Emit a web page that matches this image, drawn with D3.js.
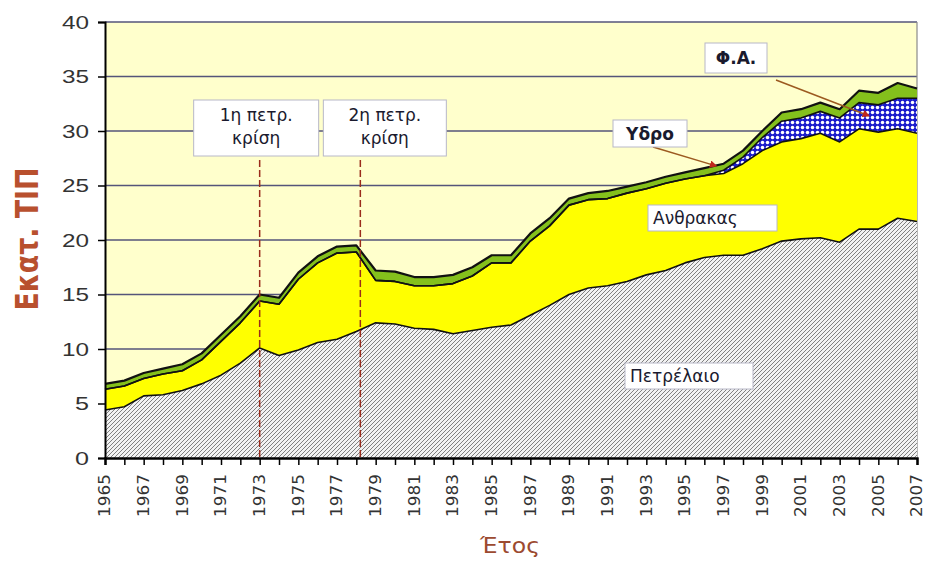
<!DOCTYPE html>
<html>
<head>
<meta charset="utf-8">
<script src="https://cdn.jsdelivr.net/npm/d3@7"></script>
<style>
  body { margin: 0; background: #fff; }
  svg { display: block; }
  .ann-box { fill: #fff; stroke: #b8b8c8; stroke-width: 1; }
  .ann-text { font-family: "DejaVu Sans", Verdana, sans-serif; font-size: 17px; fill: #1a1a2e; }
</style>
</head>
<body>
<svg></svg>
<script>
// years (x categories)
var years = [1965, 1966, 1967, 1968, 1969, 1970, 1971, 1972, 1973, 1974,
  1975, 1976, 1977, 1978, 1979, 1980, 1981, 1982, 1983, 1984,
  1985, 1986, 1987, 1988, 1989, 1990, 1991, 1992, 1993, 1994,
  1995, 1996, 1997, 1998, 1999, 2000, 2001, 2002, 2003, 2004,
  2005, 2006, 2007];

// Πετρέλαιο (oil), Mtoe
var oil = [4.4, 4.7, 5.7, 5.8, 6.2, 6.8, 7.6, 8.7, 10.1, 9.4,
  9.9, 10.6, 10.9, 11.6, 12.4, 12.3, 11.9, 11.8, 11.4, 11.7,
  12.0, 12.2, 13.1, 14.0, 15.0, 15.6, 15.8, 16.2, 16.8, 17.2,
  17.9, 18.4, 18.6, 18.6, 19.2, 19.9, 20.1, 20.2, 19.8, 21.0,
  21.0, 22.0, 21.7];

// Ανθρακας (coal)
var coal = [1.9, 1.9, 1.6, 1.9, 1.8, 2.2, 3.1, 3.7, 4.3, 4.7,
  6.5, 7.3, 7.9, 7.3, 3.9, 3.9, 3.9, 4.0, 4.6, 5.0,
  5.9, 5.7, 6.8, 7.3, 8.2, 8.1, 8.0, 8.1, 7.9, 8.0,
  7.7, 7.5, 7.5, 8.4, 9.0, 9.1, 9.2, 9.6, 9.2, 9.2,
  8.9, 8.2, 8.1];

// Φ.Α. (natural gas)
var gas = [0, 0, 0, 0, 0, 0, 0, 0, 0, 0,
  0, 0, 0, 0, 0, 0, 0, 0, 0, 0,
  0, 0, 0, 0, 0, 0, 0, 0, 0, 0,
  0, 0, 0.3, 0.6, 1.2, 1.9, 1.9, 2.0, 2.2, 2.4,
  2.5, 2.8, 3.2];

// Υδρο (hydro)
var hydro = [0.5, 0.5, 0.5, 0.5, 0.6, 0.6, 0.6, 0.6, 0.6, 0.6,
  0.6, 0.6, 0.6, 0.6, 0.9, 0.9, 0.8, 0.8, 0.8, 0.8,
  0.7, 0.7, 0.7, 0.7, 0.6, 0.6, 0.7, 0.6, 0.6, 0.6,
  0.6, 0.7, 0.6, 0.6, 0.6, 0.8, 0.8, 0.8, 0.8, 1.1,
  1.1, 1.4, 0.9];

var yTicks = [0, 5, 10, 15, 20, 25, 30, 35, 40];
var crisisYears = [1973, 1978];
var crisisLabels = [["1η πετρ.", "κρίση"], ["2η πετρ.", "κρίση"]];

var svg = d3.select("svg"),
  width = 926,
  height = 562,
  margin = { top: 22, right: 9, bottom: 104, left: 105 };

svg.attr("width", width).attr("height", height);

var table = years.map(function(yr, i) {
  return { year: yr, oil: oil[i], coal: coal[i], gas: gas[i], hydro: hydro[i] };
});

var keys = ["oil", "coal", "gas", "hydro"];
var series = d3.stack().keys(keys)(table);

var x = d3.scaleLinear()
  .domain([1965, 2007])
  .range([margin.left, width - margin.right]);

var y = d3.scaleLinear()
  .domain([0, 40])
  .range([height - margin.bottom, margin.top]);

// patterns
var defs = svg.append("defs");

var hatch = defs.append("pattern")
  .attr("id", "hatch")
  .attr("patternUnits", "userSpaceOnUse")
  .attr("width", 4).attr("height", 4);
hatch.append("rect").attr("width", 4).attr("height", 4).attr("fill", "#f2f2f2");
hatch.append("path")
  .attr("d", "M0,4L4,0M-1,1L1,-1M3,5L5,3")
  .attr("stroke", "#808080")
  .attr("stroke-width", 1);

var dots = defs.append("pattern")
  .attr("id", "dots")
  .attr("patternUnits", "userSpaceOnUse")
  .attr("width", 5).attr("height", 5);
dots.append("rect").attr("width", 5).attr("height", 5).attr("fill", "#1c1ccc");
dots.append("circle").attr("cx", 2.5).attr("cy", 2.5).attr("r", 1.75).attr("fill", "#fff");

var fills = { oil: "url(#hatch)", coal: "#ffff00", gas: "url(#dots)", hydro: "#84c01c" };

// plot background
svg.append("rect")
  .attr("x", x(1965))
  .attr("y", y(40))
  .attr("width", x(2007) - x(1965))
  .attr("height", y(0) - y(40))
  .attr("fill", "#ffffcc");

// gridlines
svg.append("g")
  .selectAll("line")
  .data(yTicks.filter(function(d) { return d > 0; }))
  .enter()
  .append("line")
  .attr("x1", x(1965))
  .attr("x2", x(2007))
  .attr("y1", function(d) { return y(d); })
  .attr("y2", function(d) { return y(d); })
  .attr("stroke", "#55557a")
  .attr("stroke-width", 1.3);

// right frame
svg.append("line")
  .attr("x1", x(2007)).attr("x2", x(2007))
  .attr("y1", y(40)).attr("y2", y(0))
  .attr("stroke", "#8a8a8a")
  .attr("stroke-width", 1.2);

var area = d3.area()
  .x(function(d) { return x(d.data.year); })
  .y0(function(d) { return y(d[0]); })
  .y1(function(d) { return y(d[1]); });

var topLine = d3.line()
  .x(function(d) { return x(d.data.year); })
  .y(function(d) { return y(d[1]); });

var g = svg.append("g");

g.selectAll("path.layer")
  .data(series)
  .enter()
  .append("path")
  .attr("class", "layer")
  .attr("fill", function(d) { return fills[d.key]; })
  .attr("d", area);

g.selectAll("path.edge")
  .data(series)
  .enter()
  .append("path")
  .attr("class", "edge")
  .attr("fill", "none")
  .attr("stroke", "#111")
  .attr("stroke-width", function(d) { return d.key === "hydro" ? 2.2 : 1.6; })
  .attr("stroke-linejoin", "round")
  .attr("d", topLine);

// crisis markers
svg.append("g")
  .selectAll("line")
  .data(crisisYears)
  .enter()
  .append("line")
  .attr("x1", function(d) { return x(d) + (d === 1978 ? 4 : 0); })
  .attr("x2", function(d) { return x(d) + (d === 1978 ? 4 : 0); })
  .attr("y1", 160)
  .attr("y2", y(0))
  .attr("stroke", "#9a2c1c")
  .attr("stroke-width", 1.5)
  .attr("stroke-dasharray", "7,3");

// axes
var yAxis = d3.axisLeft(y)
  .tickValues(yTicks)
  .tickSize(7)
  .tickPadding(9);

svg.append("g")
  .attr("transform", "translate(" + x(1965) + ",0)")
  .call(yAxis)
  .call(function(s) {
    s.select(".domain").attr("stroke", "#000").attr("stroke-width", 2);
    s.selectAll(".tick line").attr("stroke", "#000").attr("stroke-width", 1.5);
    s.selectAll(".tick text")
      .attr("font-family", "'Liberation Sans', Arial, sans-serif")
      .attr("font-size", 19)
      .attr("fill", "#333")
      .attr("lengthAdjust", "spacingAndGlyphs")
      .attr("textLength", function(d) { return d < 10 ? 14 : 27; });
  });

var xAxis = d3.axisBottom(x)
  .tickValues(years)
  .tickSize(7)
  .tickFormat(function(d) { return (d - 1965) % 2 === 0 ? d : ""; });

svg.append("g")
  .attr("transform", "translate(0," + y(0) + ")")
  .call(xAxis)
  .call(function(s) {
    s.select(".domain").attr("stroke", "#000").attr("stroke-width", 2.4);
    s.selectAll(".tick line").attr("stroke", "#000").attr("stroke-width", 1.5);
    s.selectAll(".tick text")
      .attr("font-family", "'DejaVu Sans', Verdana, sans-serif")
      .attr("font-size", 15)
      .attr("fill", "#333")
      .attr("text-anchor", "end")
      .attr("dy", null)
      .attr("transform", "translate(4.8,16) rotate(-90)")
      .attr("x", 0)
      .attr("y", 0)
      .attr("lengthAdjust", "spacingAndGlyphs")
      .attr("textLength", function(d) { return (d - 1965) % 2 === 0 ? 43 : null; });
  });

// axis titles
svg.append("text")
  .attr("transform", "translate(38," + (y(20) - 1) + ") scale(1.3,1) rotate(-90)")
  .attr("text-anchor", "middle")
  .attr("font-family", "'DejaVu Sans', Verdana, sans-serif")
  .attr("font-weight", "bold")
  .attr("font-size", 25)
  .attr("textLength", 143)
  .attr("lengthAdjust", "spacingAndGlyphs")
  .attr("fill", "#b8502e")
  .text("Εκατ. ΤΙΠ");

svg.append("text")
  .attr("x", 510)
  .attr("y", 553)
  .attr("text-anchor", "middle")
  .attr("font-family", "'DejaVu Sans', Verdana, sans-serif")
  .attr("font-size", 21)
  .attr("textLength", 60)
  .attr("lengthAdjust", "spacingAndGlyphs")
  .attr("fill", "#9c4a30")
  .text("Έτος");

// annotation boxes
function box(x0, y0, w, h, lines, opts) {
  opts = opts || {};
  var gb = svg.append("g");
  gb.append("rect")
    .attr("class", "ann-box")
    .attr("x", x0).attr("y", y0)
    .attr("width", w).attr("height", h);
  var t = gb.append("text")
    .attr("class", "ann-text")
    .attr("text-anchor", opts.anchor || "middle")
    .attr("font-weight", opts.bold ? "bold" : null);
  lines.forEach(function(l, i) {
    t.append("tspan")
      .attr("x", opts.anchor === "start" ? x0 + 5 : x0 + w / 2)
      .attr("y", y0 + (lines.length > 1 ? 21 + i * 23 : h / 2 + 6))
      .text(l);
  });
}

box(x(1973) - 66, 100, 125, 56, crisisLabels[0]);
box(x(1978) - 33, 100, 123, 56, crisisLabels[1]);

// arrows for Υδρο and Φ.Α.
defs.append("marker")
  .attr("id", "head")
  .attr("viewBox", "0 0 10 10")
  .attr("refX", 8).attr("refY", 5)
  .attr("markerWidth", 5).attr("markerHeight", 5)
  .attr("orient", "auto")
  .append("path")
  .attr("d", "M0,0L10,5L0,10z")
  .attr("fill", "#c0281c");

svg.append("line")
  .attr("x1", 653).attr("y1", 147)
  .attr("x2", x(1996.6)).attr("y2", y(26.8))
  .attr("stroke", "#9c5a20").attr("stroke-width", 1.5)
  .attr("marker-end", "url(#head)");

svg.append("line")
  .attr("x1", 776).attr("y1", 80)
  .attr("x2", x(2004.5)).attr("y2", y(31.4))
  .attr("stroke", "#9c5a20").attr("stroke-width", 1.5)
  .attr("marker-end", "url(#head)");

box(613, 120, 74, 27, ["Υδρο"], { bold: true });
box(705, 43, 62, 30, ["Φ.Α."], { bold: true });
box(648, 205, 129, 26, ["Ανθρακας"], { anchor: "start" });
box(625, 363, 128, 26, ["Πετρέλαιο"], { anchor: "start" });
</script>
</body>
</html>
